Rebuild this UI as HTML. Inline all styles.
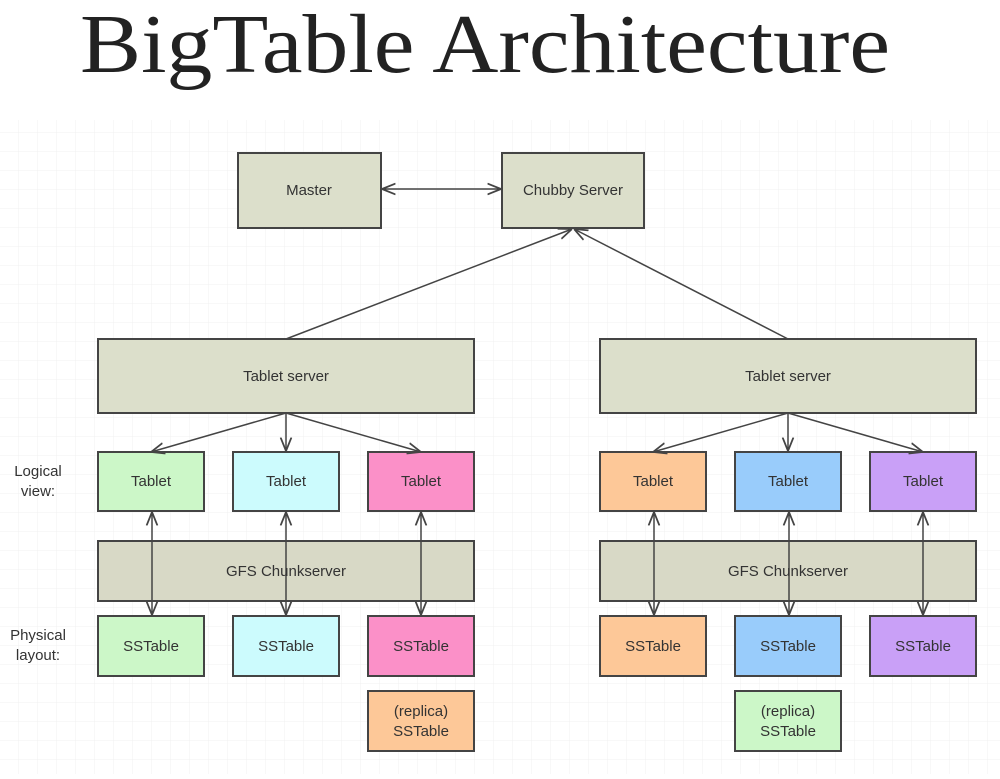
<!DOCTYPE html>
<html><head><style>html,body{margin:0;padding:0;background:#fff}</style></head><body>
<svg width="1000" height="774" viewBox="0 0 1000 774" xmlns="http://www.w3.org/2000/svg" font-family="Liberation Sans, sans-serif">
<defs>
<pattern id="g" width="19" height="19" patternUnits="userSpaceOnUse"><path d="M19 0V19H0" fill="none" stroke="#f0f0f0" stroke-width="1"/></pattern>
<marker id="a" viewBox="0 0 10 10" refX="10" refY="5" markerWidth="9" markerHeight="9" orient="auto-start-reverse"><path d="M0 1L10 5L0 9" fill="none" stroke="#444" stroke-width="1.3"/></marker>
</defs>
<rect x="0" y="120" width="1000" height="654" fill="url(#g)"/>
<text x="80" y="72" font-family="Liberation Serif, serif" font-size="84" fill="#222" textLength="810" lengthAdjust="spacingAndGlyphs">BigTable Architecture</text>
<g stroke="#444" stroke-width="2">
<rect x="238" y="153" width="143" height="75" fill="#dcdfcb"/>
<rect x="502" y="153" width="142" height="75" fill="#dcdfcb"/>
<rect x="98" y="339" width="376" height="74" fill="#dcdfcb"/>
<rect x="600" y="339" width="376" height="74" fill="#dcdfcb"/>
<rect x="98" y="541" width="376" height="60" fill="#d8d9c6"/>
<rect x="600" y="541" width="376" height="60" fill="#d8d9c6"/>
<rect x="98" y="452" width="106" height="59" fill="#ccf7c8"/>
<rect x="233" y="452" width="106" height="59" fill="#ccfbfd"/>
<rect x="368" y="452" width="106" height="59" fill="#fb90c8"/>
<rect x="600" y="452" width="106" height="59" fill="#fdc898"/>
<rect x="735" y="452" width="106" height="59" fill="#99ccfb"/>
<rect x="870" y="452" width="106" height="59" fill="#c9a0f7"/>
<rect x="98" y="616" width="106" height="60" fill="#ccf7c8"/>
<rect x="233" y="616" width="106" height="60" fill="#ccfbfd"/>
<rect x="368" y="616" width="106" height="60" fill="#fb90c8"/>
<rect x="600" y="616" width="106" height="60" fill="#fdc898"/>
<rect x="735" y="616" width="106" height="60" fill="#99ccfb"/>
<rect x="870" y="616" width="106" height="60" fill="#c9a0f7"/>
<rect x="368" y="691" width="106" height="60" fill="#fdc898"/>
<rect x="735" y="691" width="106" height="60" fill="#ccf7c8"/>
</g>
<g stroke="#444" stroke-width="1.5" fill="none">
<line x1="382" y1="189" x2="501" y2="189" marker-start="url(#a)" marker-end="url(#a)"/>
<line x1="286" y1="339" x2="572" y2="229" marker-end="url(#a)"/>
<line x1="788" y1="339" x2="574" y2="229" marker-end="url(#a)"/>
<line x1="286" y1="413" x2="151" y2="452" marker-end="url(#a)"/>
<line x1="286" y1="413" x2="286" y2="451" marker-end="url(#a)"/>
<line x1="286" y1="413" x2="421" y2="452" marker-end="url(#a)"/>
<line x1="788" y1="413" x2="653" y2="452" marker-end="url(#a)"/>
<line x1="788" y1="413" x2="788" y2="451" marker-end="url(#a)"/>
<line x1="788" y1="413" x2="923" y2="452" marker-end="url(#a)"/>
<line x1="152" y1="512" x2="152" y2="615" marker-start="url(#a)" marker-end="url(#a)"/>
<line x1="286" y1="512" x2="286" y2="615" marker-start="url(#a)" marker-end="url(#a)"/>
<line x1="421" y1="512" x2="421" y2="615" marker-start="url(#a)" marker-end="url(#a)"/>
<line x1="654" y1="512" x2="654" y2="615" marker-start="url(#a)" marker-end="url(#a)"/>
<line x1="789" y1="512" x2="789" y2="615" marker-start="url(#a)" marker-end="url(#a)"/>
<line x1="923" y1="512" x2="923" y2="615" marker-start="url(#a)" marker-end="url(#a)"/>
</g>
<g font-size="15" fill="#333" text-anchor="middle">
<text x="309" y="195">Master</text>
<text x="573" y="195">Chubby Server</text>
<text x="286" y="381">Tablet server</text>
<text x="788" y="381">Tablet server</text>
<text x="286" y="576">GFS Chunkserver</text>
<text x="788" y="576">GFS Chunkserver</text>
<text x="151" y="486">Tablet</text><text x="286" y="486">Tablet</text><text x="421" y="486">Tablet</text>
<text x="653" y="486">Tablet</text><text x="788" y="486">Tablet</text><text x="923" y="486">Tablet</text>
<text x="151" y="651">SSTable</text><text x="286" y="651">SSTable</text><text x="421" y="651">SSTable</text>
<text x="653" y="651">SSTable</text><text x="788" y="651">SSTable</text><text x="923" y="651">SSTable</text>
<text x="421" y="716">(replica)</text><text x="421" y="736">SSTable</text>
<text x="788" y="716">(replica)</text><text x="788" y="736">SSTable</text>
<text x="38" y="476">Logical</text><text x="38" y="496">view:</text>
<text x="38" y="640">Physical</text><text x="38" y="660">layout:</text>
</g>
</svg>
</body></html>
